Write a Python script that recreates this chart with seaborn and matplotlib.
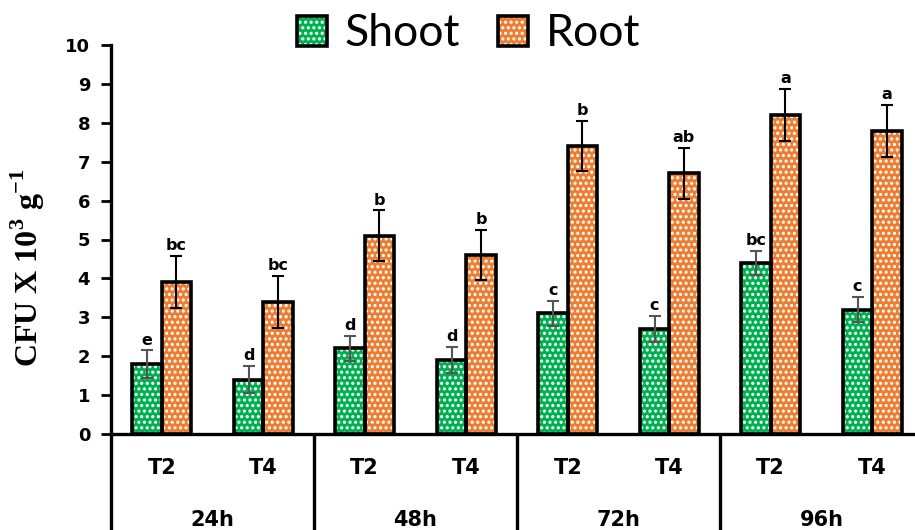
import matplotlib
matplotlib.use("Agg")
import matplotlib.pyplot as plt
from matplotlib.patches import Rectangle, Patch
import seaborn as sns
import pandas as pd

# ---- data -------------------------------------------------------------
times = ["24h", "48h", "72h", "96h"]
treatments = ["T2", "T4"]
tissues = ["Shoot", "Root"]

shoot = [1.8, 1.4, 2.2, 1.9, 3.1, 2.7, 4.4, 3.2]
root = [3.9, 3.4, 5.1, 4.6, 7.4, 6.7, 8.2, 7.8]
shoot_err = [0.35, 0.35, 0.33, 0.33, 0.33, 0.33, 0.30, 0.33]
root_err = [0.67, 0.67, 0.65, 0.65, 0.65, 0.65, 0.67, 0.67]
shoot_letters = ["e", "d", "d", "d", "c", "c", "bc", "c"]
root_letters = ["bc", "bc", "b", "b", "b", "ab", "a", "a"]

colors = {"Shoot": "#00B050", "Root": "#ED7D31"}
err_colors = {"Shoot": "#555555", "Root": "#000000"}

slots = [f"{t} {tr}" for t in times for tr in treatments]
df = pd.DataFrame({
    "slot": slots * 2,
    "tissue": ["Shoot"] * len(slots) + ["Root"] * len(slots),
    "value": shoot + root,
})
errors = {"Shoot": shoot_err, "Root": root_err}
letters = {"Shoot": shoot_letters, "Root": root_letters}

# ---- style -------------------------------------------------------------
sns.set_style("white")
plt.rcParams["font.family"] = ["DejaVu Sans"]
plt.rcParams["text.color"] = "black"
plt.rcParams["axes.labelcolor"] = "black"
plt.rcParams["xtick.color"] = "black"
plt.rcParams["ytick.color"] = "black"
plt.rcParams["hatch.linewidth"] = 1.5
plt.rcParams["mathtext.fontset"] = "custom"
plt.rcParams["mathtext.rm"] = "Liberation Serif"
plt.rcParams["mathtext.bf"] = "Liberation Serif:bold"

W, H = 915, 530
fig = plt.figure(figsize=(W / 100, H / 100), dpi=100)
left_px, right_px, top_px, bottom_px = 111, 923, 45, 434
ax = fig.add_axes([left_px / W, (H - bottom_px) / H,
                   (right_px - left_px) / W, (bottom_px - top_px) / H])

sns.barplot(data=df, x="slot", y="value", hue="tissue", order=slots,
            hue_order=tissues, palette=colors, width=0.58, saturation=1,
            errorbar=None, legend=False, ax=ax)

# small white checker dots over the fill colour
HATCH = "..."
for tissue, container in zip(tissues, ax.containers):
    for i, p in enumerate(container.patches):
        p.set_hatch(HATCH)
        p.set_edgecolor("white")
        p.set_linewidth(0)
        ax.add_patch(Rectangle((p.get_x(), p.get_y()), p.get_width(), p.get_height(),
                               fill=False, edgecolor="black", linewidth=2.6, zorder=3))
        xc = p.get_x() + p.get_width() / 2
        top = p.get_height()
        err = errors[tissue][i]
        ax.errorbar(xc, top, yerr=err, fmt="none", ecolor=err_colors[tissue],
                    elinewidth=1.5, capsize=4.5, capthick=1.5, zorder=4)
        ax.annotate(letters[tissue][i], (xc, top + err), xytext=(0, 2),
                    textcoords="offset points", ha="center", va="bottom",
                    fontsize=11.5, fontweight="bold", zorder=5)

# ---- axes --------------------------------------------------------------
ax.set_ylim(0, 10)
ax.set_xlim(-0.5, len(slots) - 0.5)
ax.set_yticks(range(0, 11))
ax.tick_params(axis="y", which="major", direction="out", length=7, width=2,
               pad=8, labelsize=13, left=True)
for lab in ax.get_yticklabels():
    lab.set_fontweight("bold")
ax.set_xticks(range(len(slots)))
ax.set_xticklabels([])
ax.tick_params(axis="x", length=0)
ax.set_xlabel("")
ax.set_ylabel(r"CFU X 10$^{\mathbf{3}}$ g$^{\mathbf{-1}}$", fontfamily="Liberation Serif",
              fontweight="bold", fontsize=23)
ax.yaxis.set_label_coords(-0.079, 0.427)

for side in ["top", "right"]:
    ax.spines[side].set_visible(False)
for side in ["left", "bottom"]:
    ax.spines[side].set_linewidth(2.4)
    ax.spines[side].set_color("black")

# two-level category axis
trans = ax.get_xaxis_transform()
for i, slot in enumerate(slots):
    ax.text(i, -0.087, treatments[i % 2], transform=trans, ha="center", va="center",
            fontsize=15, fontweight="bold")
for g, t in enumerate(times):
    ax.text(2 * g + 0.5, -0.237, t, transform=trans, ha="center", va="baseline",
            fontsize=15, fontweight="bold")
for g in range(len(times) + 1):
    ax.plot([2 * g - 0.5, 2 * g - 0.5], [0, -0.3], transform=trans, color="black",
            linewidth=2.4, clip_on=False, solid_capstyle="butt")

# legend
handles = []
for tissue in tissues:
    fillp = Patch(facecolor=colors[tissue], edgecolor="white", hatch=HATCH, linewidth=0)
    outline = Patch(facecolor="none", edgecolor="black", linewidth=2.6)
    handles.append((fillp, outline))
fig.legend(handles, tissues, loc="center", bbox_to_anchor=(0.512, 0.936), ncol=2,
           frameon=False, prop={"family": "Lato", "size": 32},
           handlelength=0.68, handleheight=0.68, handletextpad=0.4,
           columnspacing=0.85, borderaxespad=0)

fig.savefig("out.png", dpi=100)
